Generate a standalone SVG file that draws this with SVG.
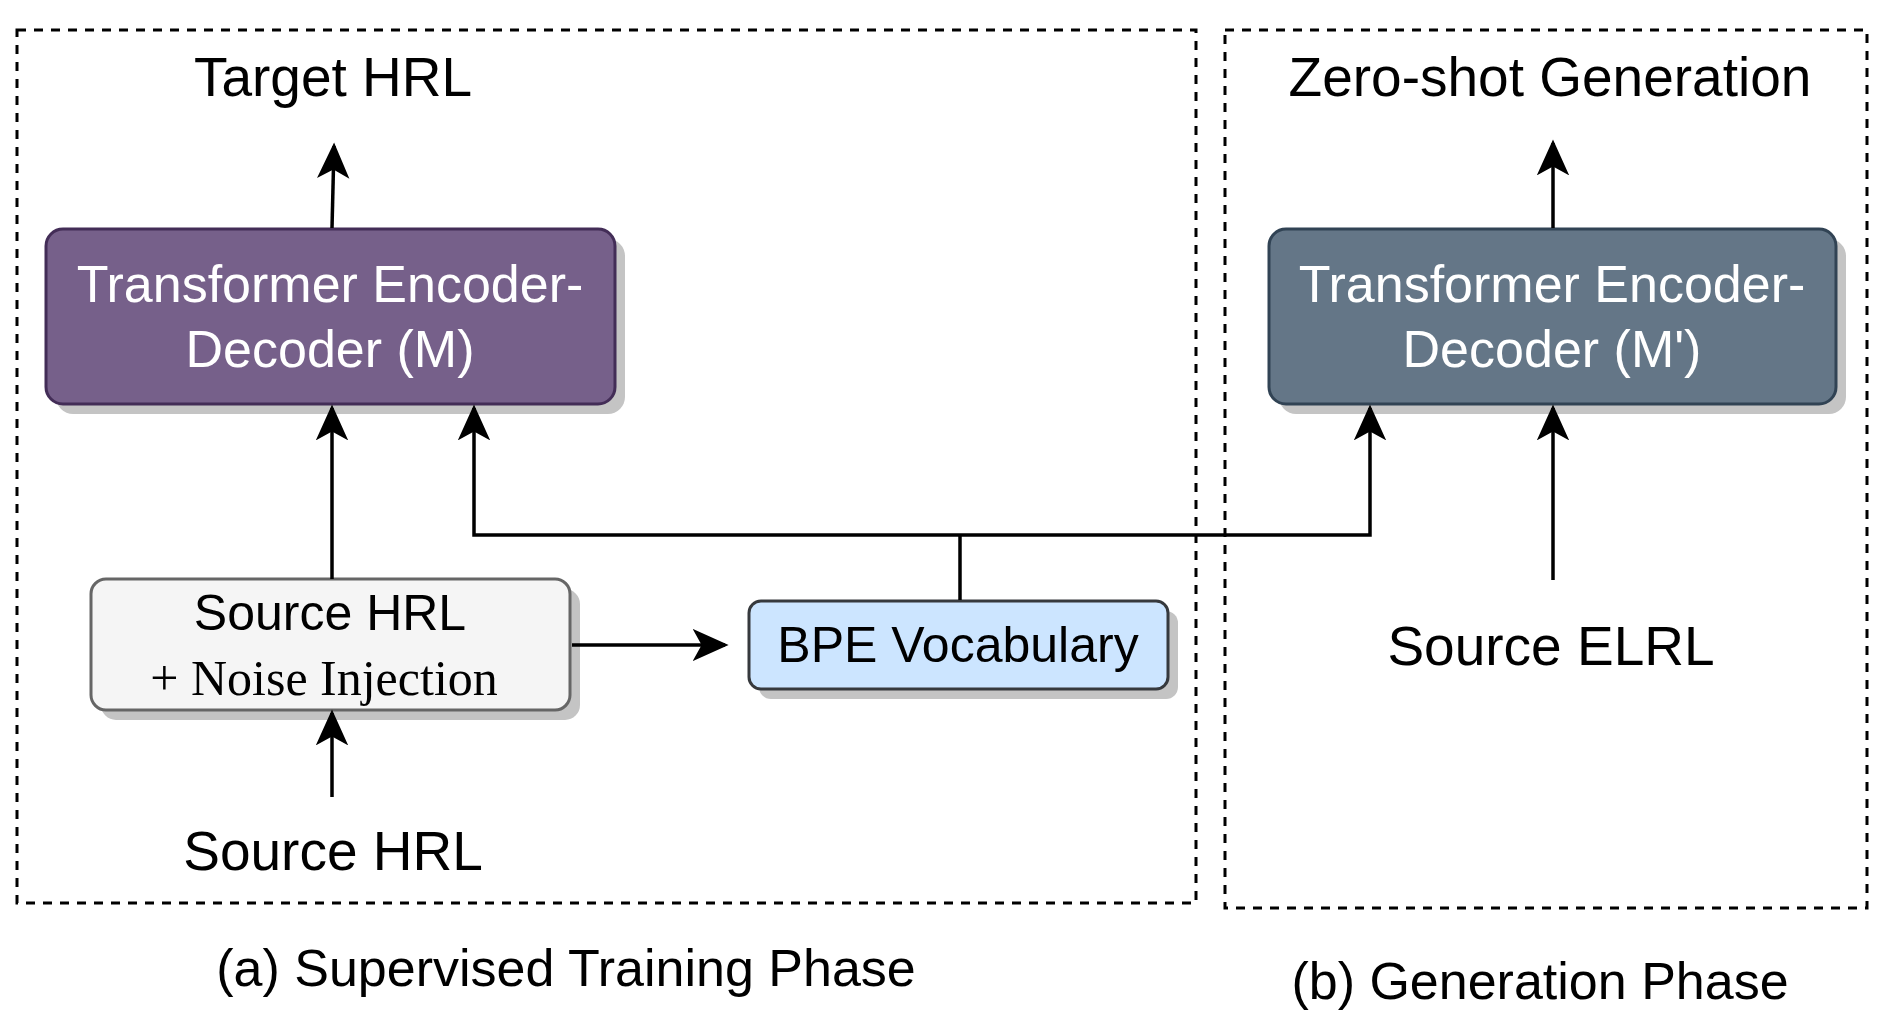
<svg xmlns="http://www.w3.org/2000/svg" width="1880" height="1018" viewBox="0 0 1880 1018">
<style>
.t{font-family:"Liberation Sans",Arial,sans-serif;text-anchor:middle;fill:#000}
.w{font-family:"Liberation Sans",Arial,sans-serif;text-anchor:middle;fill:#fff;font-size:52px}
.ln{stroke:#000;stroke-width:3.5;fill:none}
.dash{fill:none;stroke:#000;stroke-width:3;stroke-dasharray:9 8}
.sh{fill:#c4c4c4}
</style>
<defs>
<marker id="ah" markerWidth="12" markerHeight="12" refX="10" refY="6" orient="auto" markerUnits="userSpaceOnUse" viewBox="0 0 12 12">
<path d="M0,0 L12,6 L0,12 L3,6 Z" fill="#000"/>
</marker>
<marker id="a" viewBox="0 0 20 20" refX="18" refY="10" markerWidth="36" markerHeight="36" markerUnits="userSpaceOnUse" orient="auto">
<path d="M0,1 L20,10 L0,19 L5,10 Z" fill="#000"/>
</marker>
</defs>
<rect class="dash" x="17" y="30" width="1179" height="873"/>
<rect class="dash" x="1225" y="30" width="642" height="878"/>
<g id="target"><text class="t" x="333" y="96" font-size="55">Target HRL</text></g>
<g id="zeroshot"><text class="t" x="1550" y="96" font-size="55">Zero-shot Generation</text></g>
<g id="modelM">
<rect class="sh" x="56" y="239" width="569" height="175" rx="17"/>
<rect x="46" y="229" width="569" height="175" rx="17" fill="#76608a" stroke="#432d57" stroke-width="3"/>
<text class="w" x="330" y="302">Transformer Encoder-</text>
<text class="w" x="330" y="367">Decoder (M)</text>
</g>
<g id="modelMp">
<rect class="sh" x="1279" y="239" width="567" height="175" rx="17"/>
<rect x="1269" y="229" width="567" height="175" rx="17" fill="#647687" stroke="#314354" stroke-width="3"/>
<text class="w" x="1552" y="302">Transformer Encoder-</text>
<text class="w" x="1552" y="367">Decoder (M')</text>
</g>
<g id="noise">
<rect class="sh" x="101" y="589" width="479" height="131" rx="15"/>
<rect x="91" y="579" width="479" height="131" rx="15" fill="#f5f5f5" stroke="#666" stroke-width="3"/>
<text class="t" x="330" y="630" font-size="50">Source HRL</text>
<text x="324" y="695" font-size="50" text-anchor="middle" font-family="'Liberation Serif','Times New Roman',serif">+ Noise Injection</text>
</g>
<g id="bpe">
<rect class="sh" x="759" y="611" width="419" height="88" rx="12"/>
<rect x="749" y="601" width="419" height="88" rx="12" fill="#cce5ff" stroke="#36393d" stroke-width="3"/>
<text class="t" x="958" y="662" font-size="50">BPE Vocabulary</text>
</g>
<g id="srchrl"><text class="t" x="333" y="870" font-size="55">Source HRL</text></g>
<g id="srcelrl"><text class="t" x="1551" y="665" font-size="55">Source ELRL</text></g>
<g id="captions">
<text class="t" x="566" y="986" font-size="52">(a) Supervised Training Phase</text>
<text class="t" x="1540" y="999" font-size="52">(b) Generation Phase</text>
</g>
<g id="connectors">
<path class="ln" d="M332,228 L334,146" marker-end="url(#a)"/>
<path class="ln" d="M1553,228 L1553,143" marker-end="url(#a)"/>
<path class="ln" d="M332,579 L332,408" marker-end="url(#a)"/>
<path class="ln" d="M332,797 L332,713" marker-end="url(#a)"/>
<path class="ln" d="M572,645 L725,645" marker-end="url(#a)"/>
<path class="ln" d="M960,600 L960,535" stroke-width="6"/>
<path class="ln" d="M960,535 L474,535 L474,408" marker-end="url(#a)"/>
<path class="ln" d="M960,535 L1370,535 L1370,408" marker-end="url(#a)"/>
<path class="ln" d="M1553,580 L1553,408" marker-end="url(#a)"/>
</g>
</svg>
